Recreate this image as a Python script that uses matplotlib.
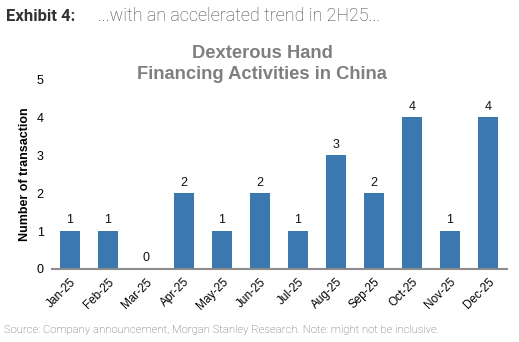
import matplotlib
matplotlib.use("Agg")
import matplotlib.pyplot as plt

months = ["Jan-25", "Feb-25", "Mar-25", "Apr-25", "May-25", "Jun-25",
          "Jul-25", "Aug-25", "Sep-25", "Oct-25", "Nov-25", "Dec-25"]
deals = [1, 1, 0, 2, 1, 2, 1, 3, 2, 4, 1, 4]
yticks = [0, 1, 2, 3, 4, 5]

bar_color = "#3A78AF"

fig = plt.figure(figsize=(5.19, 3.42), dpi=100)
ax = fig.add_axes([0.100, 0.2135, 0.877, 0.555])

x = list(range(len(months)))
bars = ax.bar(x, deals, width=0.52, color=bar_color, zorder=2)
for xi, v in zip(x, deals):
    ax.text(xi, v + 0.12, str(v), ha="center", va="bottom",
            fontsize=9, family="Liberation Sans", color="#111111")

ax.set_xlim(-0.47, 11.5)
ax.set_ylim(0, 5)
ax.set_yticks(yticks)
ax.set_yticklabels([str(t) for t in yticks], family="Liberation Sans", fontsize=9)
ax.set_xticks(x)
ax.set_xticklabels(months, rotation=45, ha="right", rotation_mode="anchor",
                   family="Liberation Sans", fontsize=8.5)
ax.tick_params(axis="both", length=0, pad=6)
ax.tick_params(axis="x", pad=5)

for s in ("top", "right", "left"):
    ax.spines[s].set_visible(False)
ax.spines["bottom"].set_color("#8C8C8C")
ax.spines["bottom"].set_linewidth(1.5)

ax.set_ylabel("Number of transaction", family="Liberation Sans",
              fontsize=9, fontweight="bold", labelpad=4)

# Chart title, centred on the figure
fig.text(0.505, 0.812, "Dexterous Hand\nFinancing Activities in China",
         family="Liberation Sans", fontsize=13.2, fontweight="bold",
         color="#7F7F7F", linespacing=1.3, ha="center", va="center")

fig.text(0.012, 0.953, "Exhibit 4:", family="Roboto", fontweight="bold",
         fontsize=12, color="#333333", va="center")
fig.text(0.189, 0.953, "...with an accelerated trend in 2H25...", family="Roboto",
         fontweight="light", fontsize=13, color="#444444", va="center")
fig.text(0.008, 0.035, "Source: Company announcement, Morgan Stanley Research. Note: might not be inclusive.",
         family="Roboto", fontweight="light", fontsize=8.1, color="#5A5A5A", va="center")

fig.savefig("out.png", dpi=100)
